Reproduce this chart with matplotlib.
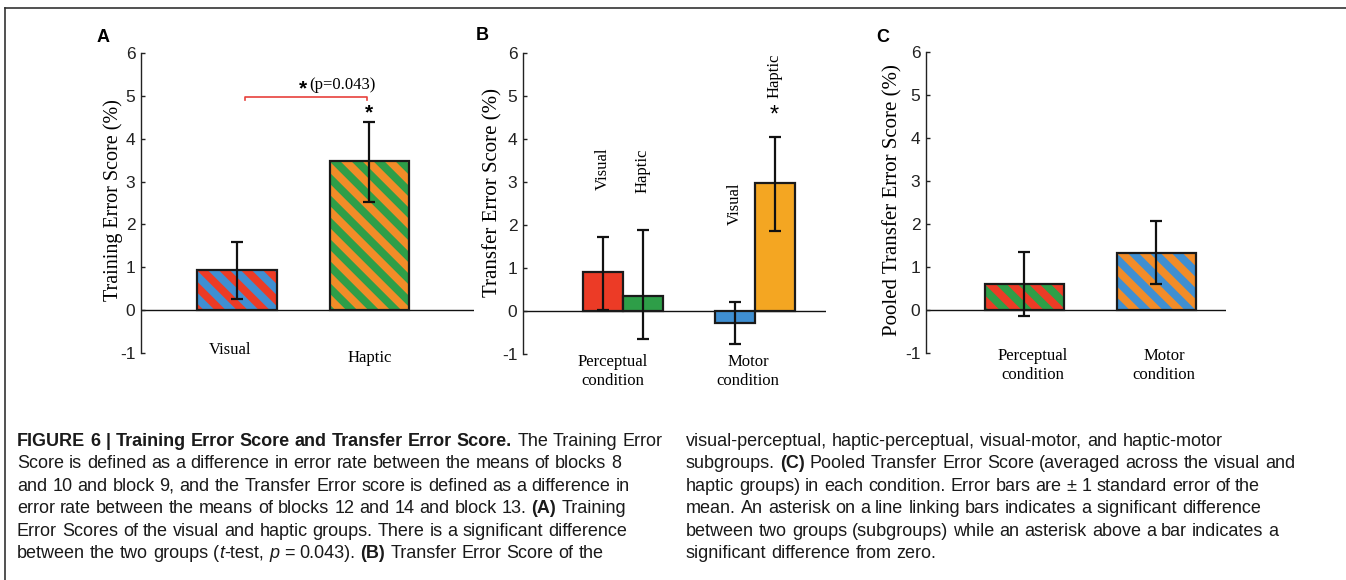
import numpy as np
import matplotlib
matplotlib.use('Agg')
import matplotlib.pyplot as plt
from matplotlib.collections import PolyCollection
from matplotlib.lines import Line2D
import matplotlib.transforms as mtransforms

plt.rcParams['axes.unicode_minus'] = False

# ---- data ----
train_groups = ['Visual', 'Haptic']
train_mean = [0.93, 3.47]
train_lo = [0.27, 2.53]
train_hi = [1.60, 4.40]

transfer_conditions = ['Perceptual\ncondition', 'Motor\ncondition']
transfer_sub = ['Visual', 'Haptic', 'Visual', 'Haptic']
transfer_mean = [0.90, 0.36, -0.28, 2.98]
transfer_lo = [0.02, -0.66, -0.77, 1.85]
transfer_hi = [1.73, 1.88, 0.21, 4.05]

pooled_conditions = ['Perceptual\ncondition', 'Motor\ncondition']
pooled_mean = [0.60, 1.32]
pooled_lo = [-0.14, 0.60]
pooled_hi = [1.36, 2.06]

p_text = '(p=0.043)'

RED = '#EC3B26'
BLUE = '#3F8FD2'
GREEN = '#2E9E48'
ORANGE = '#F28C28'
YELLOW = '#F4A622'

W, H = 1346, 580
fig = plt.figure(figsize=(W / 100, H / 100), dpi=100)

serif = 'Liberation Serif'
sans = 'Liberation Sans'


def make_axes(left, right, top, bottom, xlim):
    ax = fig.add_axes([left / W, 1 - bottom / H, (right - left) / W, (bottom - top) / H])
    ax.set_xlim(*xlim)
    ax.set_ylim(-1, 6)
    for s in ['top', 'right', 'bottom']:
        ax.spines[s].set_visible(False)
    ax.spines['left'].set_color('#222222')
    ax.spines['left'].set_linewidth(1.0)
    ax.set_xticks([])
    ax.set_yticks(range(-1, 7))
    ax.tick_params(axis='y', direction='in', length=3, width=1, pad=4,
                   labelsize=12.5, colors='#222222')
    for lab in ax.get_yticklabels():
        lab.set_fontfamily(sans)
    ax.axhline(0, color='#111111', lw=1.0, zorder=1)
    ax.patch.set_alpha(0)
    return ax


def stripes(ax, bar, color, period=22):
    # diagonal two-colour stripes, drawn in pixels and clipped to the bar
    bb = bar.get_window_extent()
    x0, y0, x1, y1 = bb.x0, bb.y0, bb.x1, bb.y1
    n_back = int(np.ceil((y1 - y0) / period)) + 1
    start = x0 + y1 - n_back * period
    polys = []
    h = period / 2
    for c in np.arange(start, x1 + y1 + period, period):
        polys.append([(c - y0, y0), (c + h - y0, y0), (c + h - y1, y1), (c - y1, y1)])
    pc = PolyCollection(polys, facecolors=color, edgecolors='none',
                        transform=mtransforms.IdentityTransform(), zorder=2.5)
    ax.add_collection(pc, autolim=False)
    pc.set_clip_path(bar.get_path(), bar.get_transform())


def striped_bars(ax, x, vals, width, cols1, cols2):
    bars = ax.bar(x, vals, width, color=cols1, edgecolor='none', zorder=2)
    for b, c2 in zip(bars, cols2):
        stripes(ax, b, c2)
    ax.bar(x, vals, width, fill=False, edgecolor='#1a1a1a', linewidth=1.6, zorder=3)


def err(ax, x, mean, lo, hi):
    mean = np.array(mean)
    yerr = [mean - np.array(lo), np.array(hi) - mean]
    ax.errorbar(x, mean, yerr=yerr, fmt='none', ecolor='#111111', elinewidth=1.6,
                capsize=4.5, capthick=1.6, zorder=4)


# ---- panel A ----
axA = make_axes(141, 474, 53, 353, (0.278, 2.789))
xA = np.arange(1, len(train_groups) + 1)
striped_bars(axA, xA, train_mean, 0.6, [BLUE, ORANGE], [RED, GREEN])
err(axA, xA, train_mean, train_lo, train_hi)
axA.plot([1.06, 1.06, 1.985, 1.985], [4.9, 4.97, 4.97, 4.9], color='#E8413C', lw=1.2,
         clip_on=False)
axA.text(1.496, 5.17, '*', fontsize=15, fontweight='bold', fontfamily=sans,
         ha='center', va='center')
axA.text(1.55, 5.26, p_text, fontsize=12, fontfamily=serif, ha='left', va='center')
axA.text(2.0, 4.6, '*', fontsize=15, fontweight='bold', fontfamily=sans,
         ha='center', va='center')
axA.text(0.947, -0.93, train_groups[0], fontsize=12, fontfamily=serif, ha='center',
         va='center', clip_on=False)
axA.text(2.0, -1.12, train_groups[1], fontsize=12, fontfamily=serif, ha='center',
         va='center', clip_on=False)
axA.text(-0.084, 0.51, 'Training Error Score (%)', rotation=90, fontsize=14.5,
         fontfamily=serif, ha='center', va='center', transform=axA.transAxes)

# ---- panel B ----
axB = make_axes(523, 826, 53, 354, (0.242, 2.537))
bw = 40 / 132
xB = np.array([1 - bw / 2, 1 + bw / 2, 2 - bw / 2, 2 + bw / 2])
axB.bar(xB, transfer_mean, bw, color=[RED, GREEN, BLUE, YELLOW], edgecolor='#1a1a1a',
        linewidth=1.6, zorder=2)
err(axB, xB, transfer_mean, transfer_lo, transfer_hi)
sub_y = [3.31, 3.26, 2.49, 5.48]
for xi, lab, yy in zip(xB, transfer_sub, sub_y):
    axB.text(xi - 0.005, yy, lab, rotation=90, fontsize=12, fontfamily=serif,
             ha='center', va='center')
axB.text(xB[3] - 0.01, 4.55, '*', fontsize=17, fontfamily=sans, ha='center', va='center')
for xc, lab in zip([0.924, 1.947], transfer_conditions):
    axB.text(xc, -1.41, lab, fontsize=12, fontfamily=serif, ha='center', va='center',
             linespacing=1.25, clip_on=False)
axB.text(-0.099, 0.538, 'Transfer Error Score (%)', rotation=90, fontsize=15,
         fontfamily=serif, ha='center', va='center', transform=axB.transAxes)

# ---- panel C ----
axC = make_axes(926, 1226, 52, 353, (0.254, 2.527))
xC = np.arange(1, len(pooled_conditions) + 1)
striped_bars(axC, xC, pooled_mean, 0.6, [GREEN, BLUE], [RED, ORANGE])
err(axC, xC, pooled_mean, pooled_lo, pooled_hi)
for xc, lab in zip([1.065, 2.057], pooled_conditions):
    axC.text(xc, -1.29, lab, fontsize=12, fontfamily=serif, ha='center', va='center',
             linespacing=1.25, clip_on=False)
axC.text(-0.110, 0.508, 'Pooled Transfer Error Score (%)', rotation=90, fontsize=15,
         fontfamily=serif, ha='center', va='center', transform=axC.transAxes)

# panel letters
for lx, ly, s in [(103, 37, 'A'), (482, 36, 'B'), (883, 37, 'C')]:
    fig.text(lx / W, 1 - ly / H, s, fontsize=13, fontweight='bold', fontfamily=sans,
             ha='center', va='center')

# frame
fig.add_artist(Line2D([5 / W, 1], [1 - 8 / H, 1 - 8 / H], color='#333333', lw=1.2))
fig.add_artist(Line2D([5 / W, 5 / W], [0, 1 - 8 / H], color='#333333', lw=1.2))

# ---- caption ----
capfont = [sans]
R = {}
B = {'fontweight': 'bold'}
I = {'fontstyle': 'italic'}

left_lines = [
    [('FIGURE 6 | Training Error Score and Transfer Error Score.', B), ('  The Training Error', R)],
    [('Score is defined as a difference in error rate between the means of blocks 8', R)],
    [('and 10 and block 9, and the Transfer Error score is defined as a difference in', R)],
    [('error rate between the means of blocks 12 and 14 and block 13. ', R), ('(A)', B), (' Training', R)],
    [('Error Scores of the visual and haptic groups. There is a significant difference', R)],
    [('between the two groups (', R), ('t', I), ('-test, ', R), ('p', I), (' = 0.043). ', R),
     ('(B)', B), (' Transfer Error Score of the', R)],
]
right_lines = [
    [('visual-perceptual, haptic-perceptual, visual-motor, and haptic-motor', R)],
    [('subgroups. ', R), ('(C)', B), (' Pooled Transfer Error Score (averaged across the visual and', R)],
    [('haptic groups) in each condition. Error bars are \u00b1 1 standard error of the', R)],
    [('mean. An asterisk on a line linking bars indicates a significant difference', R)],
    [('between two groups (subgroups) while an asterisk above a bar indicates a', R)],
    [('significant difference from zero.', R)],
]

renderer = fig.canvas.get_renderer()


def textw(s, props, size):
    t = fig.text(0, 0, s, fontsize=size, family=capfont, **props)
    w = t.get_window_extent(renderer).width
    t.remove()
    return w


def words_of(line):
    words = []
    new_word = True
    for text, props in line:
        parts = text.split(' ')
        for i, p in enumerate(parts):
            if i > 0:
                new_word = True
            if p == '':
                continue
            if new_word or not words:
                words.append([(p, props)])
                new_word = False
            else:
                words[-1].append((p, props))
    return words


def line_width(line, size):
    sw = textw('a a', R, size) - textw('aa', R, size)
    words = words_of(line)
    return sum(textw(p, pr, size) for wd in words for p, pr in wd) + sw * (len(words) - 1)


# caption size: the widest left line must fit inside the left column (17..660 px)
base = 11.0
capsize = min(base * 643 / line_width(left_lines[0], base),
              base * 626 / line_width(left_lines[1], base))
space_w = textw('a a', R, capsize) - textw('aa', R, capsize)


def draw_line(line, x0, ybase):
    x = x0
    for wd in words_of(line):
        for p, pr in wd:
            fig.text(x / W, 1 - ybase / H, p, fontsize=capsize, family=capfont,
                     ha='left', va='baseline', color='#1a1a1a', **pr)
            x += textw(p, pr, capsize)
        x += space_w


for i, line in enumerate(left_lines):
    draw_line(line, 17, 446 + 22.4 * i)
for i, line in enumerate(right_lines):
    draw_line(line, 686, 446 + 22.4 * i)

fig.savefig('out.png', dpi=100)
